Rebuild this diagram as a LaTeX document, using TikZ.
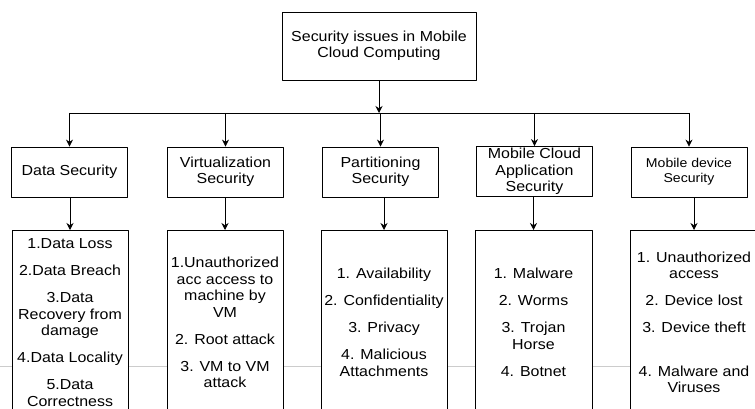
\documentclass[tikz,border=0pt]{standalone}
\usepackage{fontspec}
\setmainfont[FakeStretch=1.1]{Liberation Sans}
\usetikzlibrary{arrows.meta}
\begin{document}
\begin{tikzpicture}[x=1pt,y=-1pt,>={Stealth[length=7pt,width=7pt]}, line join=round,
	font=\fontsize{14.5}{16.5}\selectfont,
	box/.style={draw, line width=.8pt, fill=white, inner sep=0pt, align=center, minimum width=116pt, minimum height=50pt},
	list/.style={draw, line width=.8pt, fill=white, inner sep=0pt, align=center, anchor=north, minimum width=116pt, minimum height=184pt},
	arr/.style={->, line width=.8pt}]
	\useasboundingbox (0,0) rectangle (755,409);
	% faint rule behind the lists
	\draw[gray!40, line width=.5pt] (0,366) -- (755,366);
	\node[box, minimum width=194pt, minimum height=68pt] (top) at (379,46) {Security issues in Mobile\\Cloud Computing};
	\coordinate (bus) at (379,113);
	\node[box] (d1) at (69.5,172) {Data Security};
	\node[box] (d2) at (225.5,172) {Virtualization\\Security};
	\node[box] (d3) at (380.5,172) {Partitioning\\Security};
	\node[box] (d4) at (534.5,171.5) {Mobile Cloud\\Application\\Security};
	\node[box, font=\fontsize{12.8}{15}\selectfont] (d5) at (689,172) {Mobile device\\Security};
	\node[list] (c1) at (70,230) {1.Data Loss\\[10.5pt]2.Data Breach\\[10.5pt]3.Data\\Recovery from\\damage\\[10.5pt]4.Data Locality\\[10.5pt]5.Data\\Correctness};
	\node[list] (c2) at (225,230) {1.Unauthorized\\acc access to\\machine by\\VM\\[10.5pt]2. Root attack\\[10.5pt]3. VM to VM\\attack};
	\node[list, minimum width=126pt] (c3) at (384,230) {1. Availability\\[10.5pt]2. Confidentiality\\[10.5pt]3. Privacy\\[10.5pt]4. Malicious\\Attachments};
	\node[list, minimum width=117pt] (c4) at (533.5,230) {1. Malware\\[10.5pt]2. Worms\\[10.5pt]3. Trojan\\Horse\\[10.5pt]4. Botnet};
	\node[list, minimum width=128pt] (c5) at (694,230) {1. Unauthorized\\access\\[10.5pt]2. Device lost\\[10.5pt]3. Device theft\\[27pt]4. Malware and\\Viruses};
	\draw[arr] (top) -- (bus);
	\draw[line width=.8pt] (d1.north |- bus) -- (d5.north |- bus);
	\foreach \i in {1,...,5}
	{
		\draw[arr] (d\i.north |- bus) -- (d\i.north);
		\draw[arr] (c\i.north |- d\i.south) -- (c\i.north);
	}
\end{tikzpicture}
\end{document}
